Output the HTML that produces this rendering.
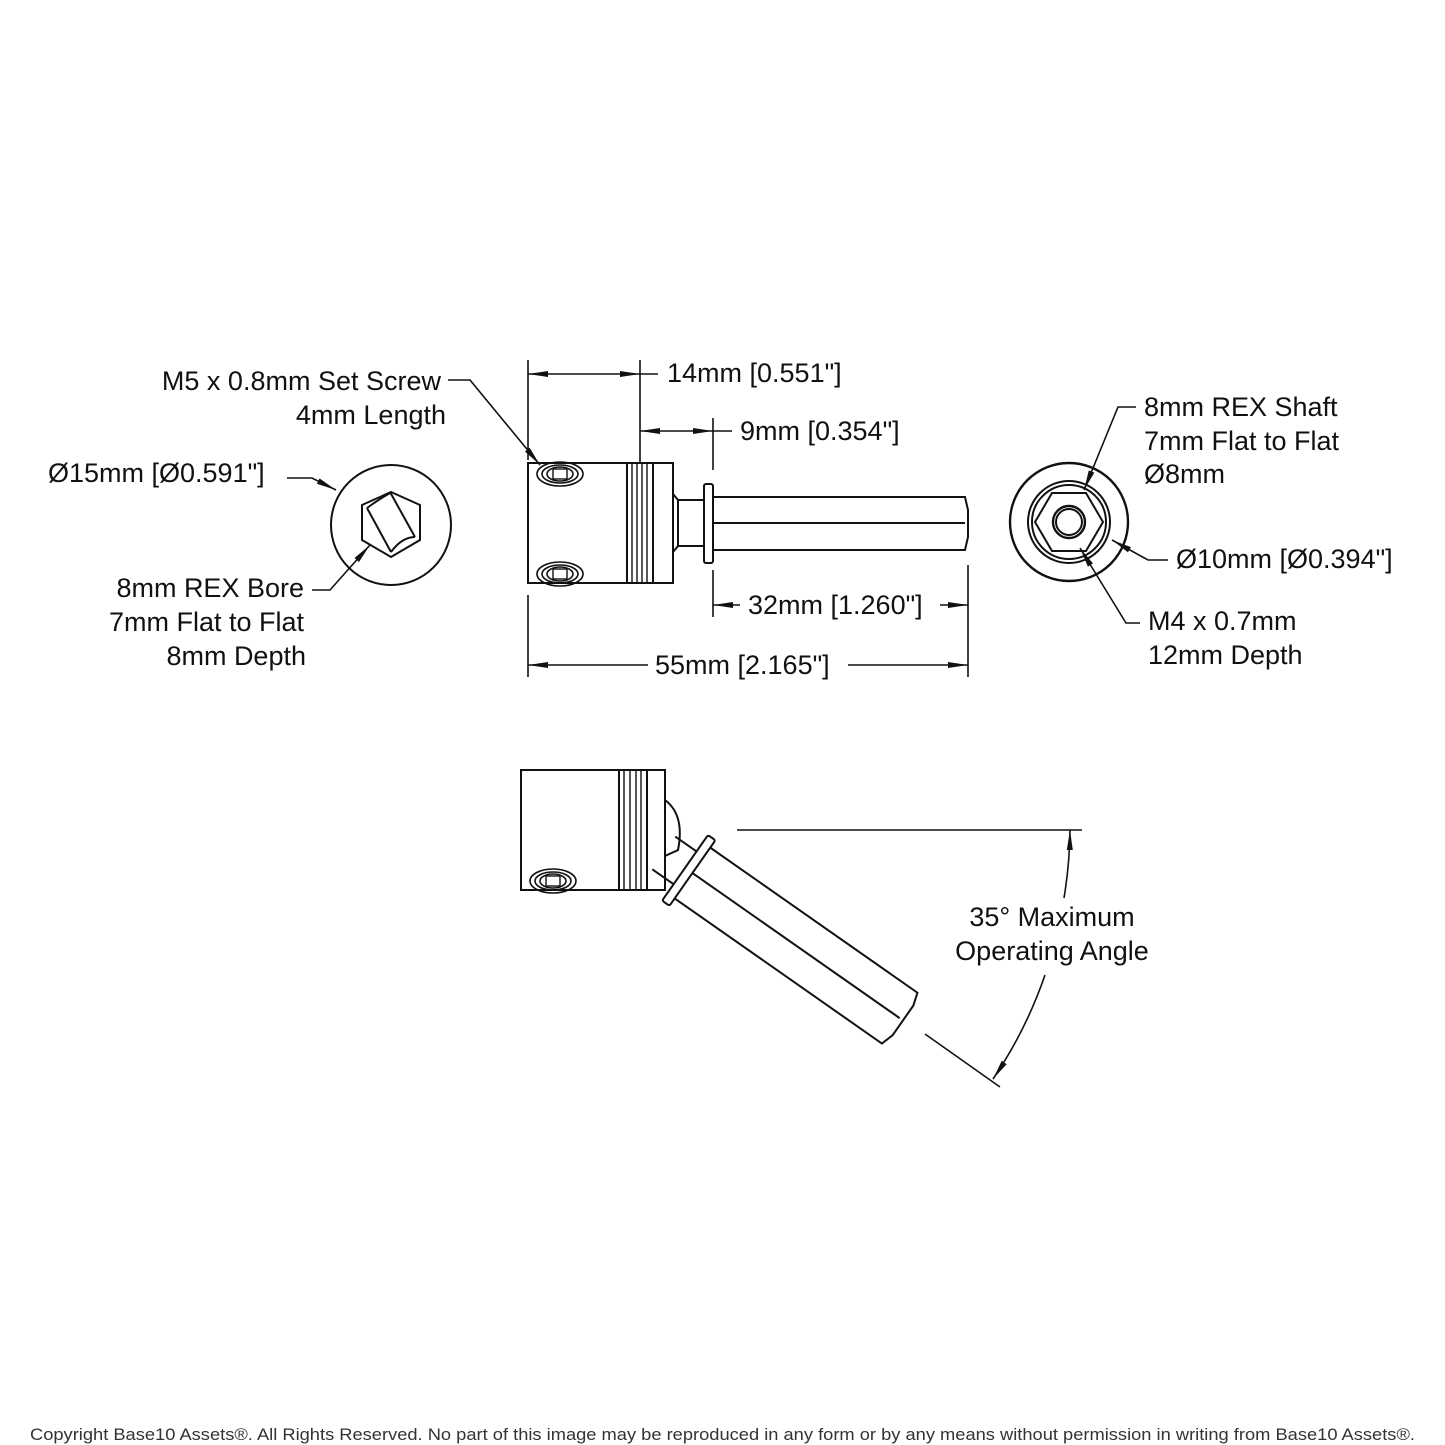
<!DOCTYPE html>
<html><head><meta charset="utf-8"><style>
html,body{margin:0;padding:0;background:#fff}
svg{display:block}
text{font-family:"Liberation Sans",sans-serif;font-size:27px;fill:#111}
</style></head><body>
<svg width="1445" height="1445" viewBox="0 0 1445 1445" xmlns="http://www.w3.org/2000/svg">
<defs>
<marker id="a" viewBox="0 0 20 8" refX="20" refY="4" markerWidth="20" markerHeight="8" markerUnits="userSpaceOnUse" orient="auto"><path d="M0,1 L20,4 L0,7 Z" fill="#111"/></marker>
<g id="screw">
<ellipse rx="23" ry="12" fill="none" stroke="#111" stroke-width="1.6"/>
<ellipse rx="18" ry="9" fill="none" stroke="#111" stroke-width="1.6"/>
<ellipse rx="13" ry="7" fill="none" stroke="#111" stroke-width="1.6"/>
<rect x="-7" y="-5" width="14" height="10" fill="none" stroke="#111" stroke-width="1.4"/>
</g>
</defs>
<g fill="none" stroke="#111" stroke-width="2">
<circle cx="391" cy="525" r="60"/>
<polygon points="391,492 420,505 420,540 391,557 362,540 362,505"/>
<line x1="367" y1="508" x2="391" y2="552"/>
<line x1="390" y1="492" x2="415" y2="537"/>
<path d="M367,508 Q378,500 390,493"/>
<path d="M391,552 Q402,537 415,537"/>
<rect x="528" y="463" width="99" height="120"/>
<rect x="627" y="463" width="26" height="120"/>
<line x1="632" y1="463" x2="632" y2="583" stroke-width="1.4"/>
<line x1="637" y1="463" x2="637" y2="583" stroke-width="1.4"/>
<line x1="642" y1="463" x2="642" y2="583" stroke-width="1.4"/>
<line x1="647" y1="463" x2="647" y2="583" stroke-width="1.4"/>
<rect x="653" y="463" width="20" height="120"/>
<path d="M673,494 L678,500 L678,546 L673,552 Z"/>
<rect x="678" y="500" width="26" height="46"/>
<rect x="704" y="484" width="9" height="79" rx="2"/>
<path d="M713,497 L965,497 L968,510 L968,537 L965,550 L713,550"/>
<line x1="713" y1="523" x2="965" y2="523"/>
<use href="#screw" x="560" y="474"/>
<use href="#screw" x="560" y="574"/>
<circle cx="1069" cy="522" r="59" stroke-width="2.4"/>
<circle cx="1069" cy="522" r="41"/>
<circle cx="1069" cy="522" r="37"/>
<polygon points="1103,522 1086,493 1052,493 1035,522 1052,551 1086,551"/>
<circle cx="1069" cy="522" r="16" stroke-width="2.4"/>
<circle cx="1069" cy="522" r="13"/>
<rect x="521" y="770" width="98" height="120"/>
<rect x="619" y="770" width="28" height="120"/>
<line x1="624" y1="770" x2="624" y2="890" stroke-width="1.4"/>
<line x1="630" y1="770" x2="630" y2="890" stroke-width="1.4"/>
<line x1="636" y1="770" x2="636" y2="890" stroke-width="1.4"/>
<line x1="641" y1="770" x2="641" y2="890" stroke-width="1.4"/>
<rect x="647" y="770" width="18" height="120"/>
<use href="#screw" x="553" y="881"/>
<path d="M665,800 Q685,815 678,850 L665,856"/>
<g transform="translate(631,830) rotate(35)">
<path d="M40,-20 L66,-20 M40,20 L66,20"/>
<rect x="66" y="-40" width="9" height="80" rx="2"/>
<path d="M75,-31 L328,-31 L332,-18 L332,18 L328,31 L75,31"/>
<line x1="75" y1="0" x2="328" y2="0"/>
</g>
</g>
<g fill="none" stroke="#111" stroke-width="1.6">
<line x1="528" y1="360" x2="528" y2="460"/>
<line x1="640" y1="360" x2="640" y2="462"/>
<line x1="713" y1="418" x2="713" y2="470"/>
<line x1="584" y1="374" x2="528" y2="374" marker-end="url(#a)"/>
<line x1="584" y1="374" x2="640" y2="374" marker-end="url(#a)"/>
<line x1="640" y1="374" x2="658" y2="374"/>
<line x1="676" y1="431" x2="640" y2="431" marker-end="url(#a)"/>
<line x1="676" y1="431" x2="713" y2="431" marker-end="url(#a)"/>
<line x1="713" y1="431" x2="732" y2="431"/>
<line x1="713" y1="570" x2="713" y2="617"/>
<line x1="968" y1="565" x2="968" y2="677"/>
<line x1="528" y1="595" x2="528" y2="677"/>
<line x1="740" y1="605" x2="713" y2="605" marker-end="url(#a)"/>
<line x1="940" y1="605" x2="968" y2="605" marker-end="url(#a)"/>
<line x1="648" y1="665" x2="528" y2="665" marker-end="url(#a)"/>
<line x1="848" y1="665" x2="968" y2="665" marker-end="url(#a)"/>
<polyline points="448,380 470,380 540,465" marker-end="url(#a)"/>
<polyline points="287,478 312,478 336,490" marker-end="url(#a)"/>
<polyline points="312,590 330,590 370,545" marker-end="url(#a)"/>
<polyline points="1136,407 1118,407 1084,490" marker-end="url(#a)"/>
<polyline points="1168,560 1148,560 1112,540" marker-end="url(#a)"/>
<polyline points="1140,623 1126,623 1080,548" marker-end="url(#a)"/>
<line x1="737" y1="830" x2="1082" y2="830"/>
<line x1="925" y1="1034" x2="1000" y2="1087"/>
<path d="M1064,898 A439,439 0 0 0 1070,830" marker-end="url(#a)"/>
<path d="M1045,975 A439,439 0 0 1 993,1079" marker-end="url(#a)"/>
</g>
<text x="441" y="390" text-anchor="end">M5 x 0.8mm Set Screw</text>
<text x="446" y="424" text-anchor="end">4mm Length</text>
<text x="48" y="482">Ø15mm [Ø0.591"]</text>
<text x="304" y="597" text-anchor="end">8mm REX Bore</text>
<text x="304" y="631" text-anchor="end">7mm Flat to Flat</text>
<text x="306" y="665" text-anchor="end">8mm Depth</text>
<text x="667" y="382">14mm [0.551"]</text>
<text x="740" y="440">9mm [0.354"]</text>
<text x="748" y="614">32mm [1.260"]</text>
<text x="655" y="674">55mm [2.165"]</text>
<text x="1144" y="416">8mm REX Shaft</text>
<text x="1144" y="450">7mm Flat to Flat</text>
<text x="1144" y="483">Ø8mm</text>
<text x="1176" y="568">Ø10mm [Ø0.394"]</text>
<text x="1148" y="630">M4 x 0.7mm</text>
<text x="1148" y="664">12mm Depth</text>
<text x="1052" y="926" text-anchor="middle">35° Maximum</text>
<text x="1052" y="960" text-anchor="middle">Operating Angle</text>
<text x="30" y="1440" style="font-size:17px;fill:#333" textLength="1385" lengthAdjust="spacingAndGlyphs">Copyright Base10 Assets®.  All Rights Reserved. No part of this image may be reproduced in any form or by any means without permission in writing from Base10 Assets®.</text>
</svg>
</body></html>
